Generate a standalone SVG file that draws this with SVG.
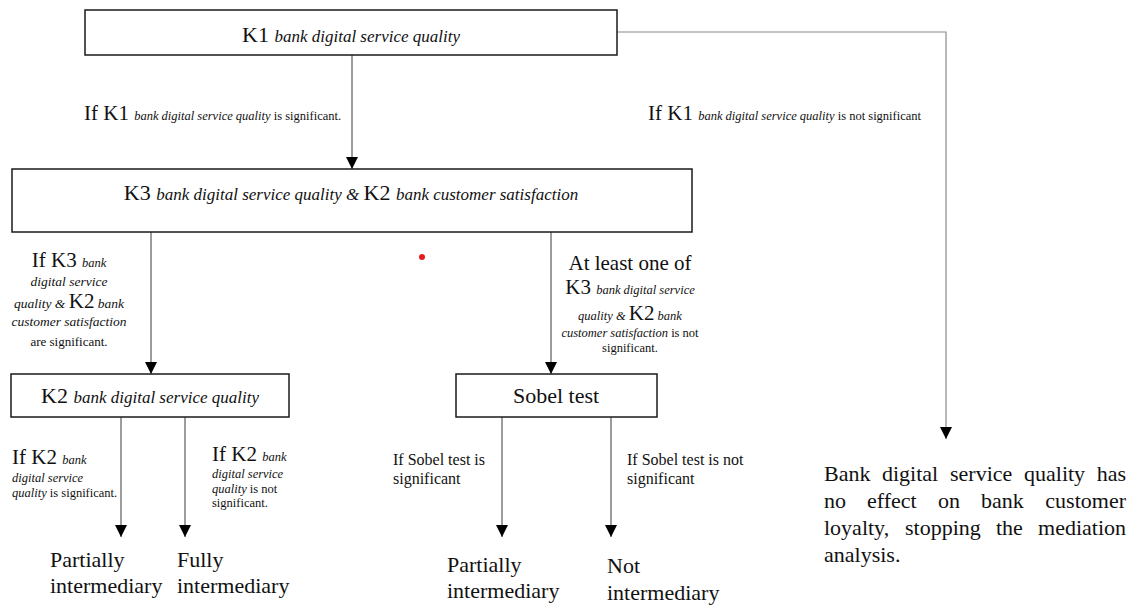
<svg xmlns="http://www.w3.org/2000/svg" width="1137" height="608" viewBox="0 0 1137 608">
<style>
.box{fill:#fff;stroke:#1a1a1a;stroke-width:1.5}
.ln{fill:none;stroke:#3a3a3a;stroke-width:1}
.lg{fill:none;stroke:#8a8a8a;stroke-width:1.2}
text{font-family:"Liberation Serif","Times New Roman",serif;fill:#111}
.it{font-style:italic}
.big{font-size:22px}
.k{font-size:21px}
.s{font-size:12.5px}
.m{font-size:16px}
.r{font-size:22px}
</style>
<defs>
<marker id="ah" markerWidth="12" markerHeight="12" refX="12" refY="6" orient="auto" markerUnits="userSpaceOnUse">
<path d="M0,0 L12,6 L0,12 z" fill="#000"/>
</marker>
</defs>
<rect width="1137" height="608" fill="#fff"/>
<g id="connectors">
<path class="ln" d="M352,55 V169" marker-end="url(#ah)"/>
<path class="lg" d="M617,32 H946 V439" marker-end="url(#ah)"/>
<path class="ln" d="M151,232 V374" marker-end="url(#ah)"/>
<path class="ln" d="M551,232 V374" marker-end="url(#ah)"/>
<path class="ln" d="M121,417 V537" marker-end="url(#ah)"/>
<path class="ln" d="M185,417 V537" marker-end="url(#ah)"/>
<path class="ln" d="M502,417 V537" marker-end="url(#ah)"/>
<path class="ln" d="M611,417 V537" marker-end="url(#ah)"/>
</g>
<g id="labels">
<text x="84" y="120"><tspan class="k">If K1 </tspan><tspan class="s it">bank digital service quality</tspan><tspan class="s"> is significant.</tspan></text>
<text x="648" y="120"><tspan class="k">If K1 </tspan><tspan class="s it">bank digital service quality</tspan><tspan class="s"> is not significant</tspan></text>
<g text-anchor="middle">
<text x="69" y="267"><tspan class="k">If K3 </tspan><tspan class="s it" font-size="13.5">bank</tspan></text>
<text x="69" y="286" class="it" font-size="13.5">digital service</text>
<text x="69" y="308"><tspan class="it" font-size="13.5">quality &amp; </tspan><tspan class="k">K2</tspan><tspan class="it" font-size="13.5"> bank</tspan></text>
<text x="69" y="326" class="it" font-size="13.5">customer satisfaction</text>
<text x="69" y="346" font-size="13">are significant.</text>
<text x="630" y="270" class="k">At least one of</text>
<text x="630" y="294"><tspan class="k">K3 </tspan><tspan class="s it">bank digital service</tspan></text>
<text x="630" y="320"><tspan class="s it">quality &amp; </tspan><tspan class="k">K2</tspan><tspan class="s it"> bank</tspan></text>
<text x="630" y="337"><tspan class="s it">customer satisfaction</tspan><tspan class="s"> is not</tspan></text>
<text x="630" y="352" class="s">significant.</text>
</g>
<text x="12" y="464"><tspan class="k">If K2 </tspan><tspan class="s it">bank</tspan></text>
<text x="12" y="482" class="s it">digital service</text>
<text x="12" y="497"><tspan class="s it">quality</tspan><tspan class="s"> is significant.</tspan></text>
<text x="212" y="461"><tspan class="k">If K2 </tspan><tspan class="s it">bank</tspan></text>
<text x="212" y="478" class="s it">digital service</text>
<text x="212" y="493"><tspan class="s it">quality</tspan><tspan class="s"> is not</tspan></text>
<text x="212" y="507" class="s">significant.</text>
<text x="393" y="465" class="m">If Sobel test is</text>
<text x="393" y="484" class="m">significant</text>
<text x="627" y="465" class="m">If Sobel test is not</text>
<text x="627" y="484" class="m">significant</text>
</g>
<g id="node-k1">
<rect class="box" x="85" y="10" width="532" height="45"/>
<text x="351" y="42" text-anchor="middle"><tspan class="big">K1 </tspan><tspan class="it" font-size="17">bank digital service quality</tspan></text>
</g>
<g id="node-k3k2">
<rect class="box" x="12" y="169" width="680" height="63"/>
<text x="351" y="200" text-anchor="middle"><tspan class="big">K3 </tspan><tspan class="it" font-size="17">bank digital service quality &amp; </tspan><tspan class="big">K2 </tspan><tspan class="it" font-size="17">bank customer satisfaction</tspan></text>
</g>
<g id="node-k2">
<rect class="box" x="11" y="374" width="278" height="43"/>
<text x="150" y="403" text-anchor="middle"><tspan class="big">K2 </tspan><tspan class="it" font-size="17">bank digital service quality</tspan></text>
</g>
<g id="node-sobel">
<rect class="box" x="456" y="374" width="201" height="43"/>
<text x="556" y="403" text-anchor="middle" class="r">Sobel test</text>
</g>
<g id="node-partial1">
<text x="50" y="567" class="r">Partially</text>
<text x="50" y="593" class="r">intermediary</text>
</g>
<g id="node-fully">
<text x="177" y="567" class="r">Fully</text>
<text x="177" y="593" class="r">intermediary</text>
</g>
<g id="node-partial2">
<text x="447" y="572" class="r">Partially</text>
<text x="447" y="598" class="r">intermediary</text>
</g>
<g id="node-not">
<text x="607" y="573" class="r">Not</text>
<text x="607" y="600" class="r">intermediary</text>
</g>
<g id="node-noeffect" class="r">
<text y="481" class="r"><tspan x="824">Bank</tspan><tspan x="882">digital</tspan><tspan x="950">service</tspan><tspan x="1024">quality</tspan><tspan x="1126" text-anchor="end">has</tspan></text>
<text y="508" class="r"><tspan x="824">no</tspan><tspan x="867">effect</tspan><tspan x="938">on</tspan><tspan x="981">bank</tspan><tspan x="1126" text-anchor="end">customer</tspan></text>
<text y="535" class="r"><tspan x="824">loyalty,</tspan><tspan x="905">stopping</tspan><tspan x="996">the</tspan><tspan x="1126" text-anchor="end">mediation</tspan></text>
<text y="562" class="r" x="824">analysis.</text>
</g>
<circle cx="422" cy="257" r="3" fill="#e31b1b"/>
</svg>
